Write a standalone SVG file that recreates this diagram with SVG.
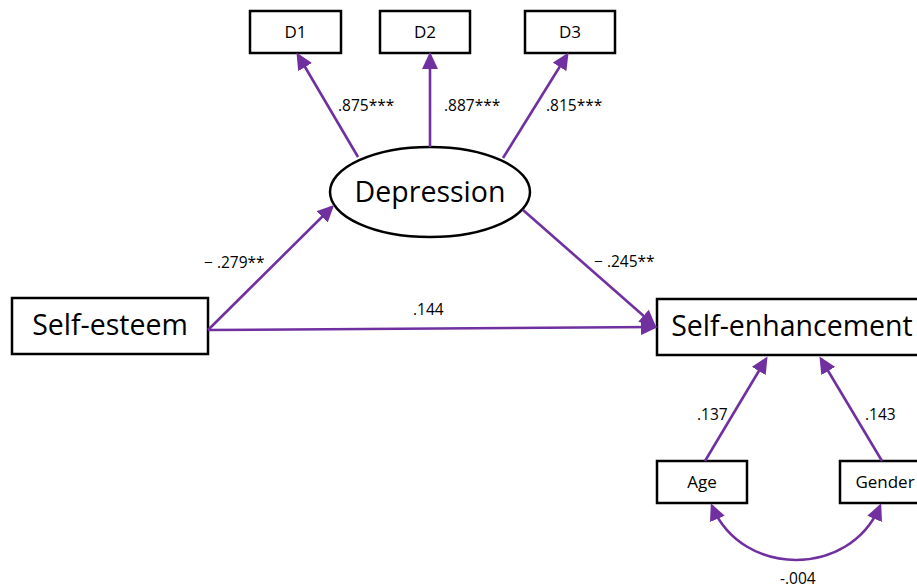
<svg xmlns="http://www.w3.org/2000/svg" width="917" height="588" viewBox="0 0 917 588">
<style>
.box{fill:#fff;stroke:#000;stroke-width:2.5}
.t{font-family:"Open Sans","Noto Sans","DejaVu Sans",sans-serif;fill:#000;text-anchor:middle}
.s{font-size:17px}
.b{font-size:28.5px}
.e{stroke:#7030A0;stroke-width:2.6;fill:none;marker-end:url(#ah)}
.lbl{font-family:"Open Sans","Noto Sans","DejaVu Sans",sans-serif;font-size:15.5px;fill:#000}
</style>
<defs>
<marker id="ah" markerUnits="userSpaceOnUse" markerWidth="18" markerHeight="16" refX="14" refY="8" orient="auto-start-reverse" viewBox="0 0 18 16">
<path d="M0,0 L17,8 L0,16 z" fill="#7030A0"/>
</marker>
</defs>
<g id="D1"><rect class="box" x="250" y="11" width="91" height="42"/><text class="t s" x="295.5" y="38">D1</text></g>
<g id="D2"><rect class="box" x="380" y="11" width="90" height="42"/><text class="t s" x="425" y="38">D2</text></g>
<g id="D3"><rect class="box" x="525" y="11" width="90" height="42"/><text class="t s" x="570" y="38">D3</text></g>
<g id="Depression"><ellipse cx="430" cy="192" rx="100" ry="45" fill="#fff" stroke="#000" stroke-width="2.5"/><text class="t b" x="430" y="202">Depression</text></g>
<g id="SelfEsteem"><rect class="box" x="12" y="298" width="196" height="56"/><text class="t b" x="110" y="335">Self-esteem</text></g>
<g id="SelfEnhancement"><rect class="box" x="657" y="299" width="264" height="56"/><text class="t b" x="792" y="336">Self-enhancement</text></g>
<g id="Age"><rect class="box" x="657" y="461" width="90" height="42"/><text class="t s" x="702" y="488">Age</text></g>
<g id="Gender"><rect class="box" x="840" y="461" width="80" height="42"/><text class="t s" x="885" y="488">Gender</text></g>
<g id="connectors">
<line class="e" x1="358" y1="157" x2="298" y2="55"/>
<line class="e" x1="430" y1="147" x2="430" y2="55"/>
<line class="e" x1="503" y1="158" x2="567" y2="55"/>
<line class="e" x1="208" y1="330" x2="332" y2="207"/>
<line class="e" x1="523" y1="210" x2="654" y2="325"/>
<line class="e" x1="208" y1="330" x2="655" y2="327"/>
<line class="e" x1="705" y1="461" x2="766" y2="359"/>
<line class="e" x1="882" y1="461" x2="821" y2="359"/>
<path class="e" d="M712,506 C742,578 850,578 880,506" style="marker-start:url(#ah)"/>
</g>
<g id="labels">
<text class="lbl" x="338" y="111">.875***</text>
<text class="lbl" x="444" y="111">.887***</text>
<text class="lbl" x="546" y="111">.815***</text>
<text class="lbl" x="204" y="268">− .279**</text>
<text class="lbl" x="594" y="267">− .245**</text>
<text class="lbl" x="413" y="315">.144</text>
<text class="lbl" x="697" y="420">.137</text>
<text class="lbl" x="865" y="420">.143</text>
<text class="lbl" x="780" y="584">-.004</text>
</g>
</svg>
